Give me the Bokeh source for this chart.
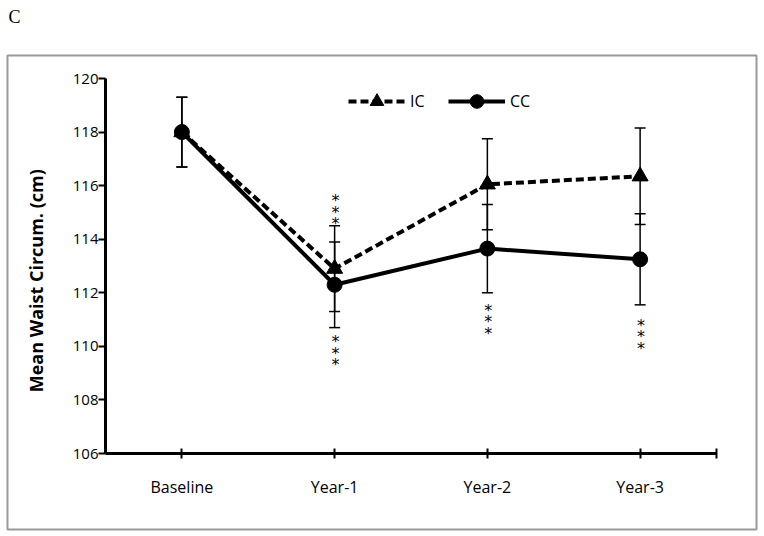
import numpy as np
from bokeh.plotting import figure
from bokeh.models import (ColumnDataSource, Whisker, TeeHead, FixedTicker, Legend,
                          LegendItem, Label, Range1d, LinearAxis, BoxAnnotation)
from bokeh.core.properties import value
from bokeh.embed import file_html
from bokeh.resources import INLINE

# ---- data ----
categories = ["Baseline", "Year-1", "Year-2", "Year-3"]
ic_mean = [118.0, 112.9, 116.05, 116.35]
ic_err = [1.3, 1.6, 1.7, 1.8]
cc_mean = [118.0, 112.3, 113.65, 113.25]
cc_err = [1.3, 1.6, 1.65, 1.7]
y_ticks = [106, 108, 110, 112, 114, 116, 118, 120]
star_cats = ["Year-1", "Year-1", "Year-2", "Year-3"]
star_y = [115.0, 109.75, 110.92, 110.35]
panel_letter = "C"
y_title = "Mean Waist Circum. (cm)"

FONT = "Open Sans"
n = len(categories)
xpos = [i + 0.5 for i in range(n)]

# the plotting frame covers the whole canvas; axes sit at fixed data positions
p = figure(width=760, height=532, output_backend="svg", toolbar_location=None,
           x_range=Range1d(-0.6874, 4.2881), y_range=Range1d(103.0507, 122.912),
           x_axis_type=None, y_axis_type=None,
           min_border_left=0, min_border_right=0, min_border_top=0,
           min_border_bottom=0)
p.outline_line_color = None
p.grid.visible = False
p.background_fill_color = "white"
p.border_fill_color = "white"

# outer chart box
p.add_layout(BoxAnnotation(left=-0.6416, right=4.2619, top=120.8587,
                           bottom=103.1627, fill_alpha=0, fill_color=None,
                           line_color="#9a9a9a", line_width=2, line_alpha=1))

xaxis = LinearAxis(fixed_location=106, bounds=(0, n),
                   ticker=FixedTicker(ticks=xpos + [n]))
xaxis.major_label_overrides = {x: c for x, c in zip(xpos, categories)}
xaxis.major_label_overrides[n] = ""
yaxis = LinearAxis(fixed_location=0, bounds=(106, 120),
                   ticker=FixedTicker(ticks=y_ticks))
for ax in (xaxis, yaxis):
    ax.axis_line_width = 3
    ax.axis_line_color = "black"
    ax.major_tick_line_width = 2
    ax.major_tick_line_color = "black"
    ax.minor_tick_line_color = None
    ax.major_label_text_font = FONT
    ax.major_label_text_color = "black"
xaxis.major_label_text_font_size = "16px"
yaxis.major_label_text_font_size = "15px"
xaxis.major_tick_in = 5
xaxis.major_tick_out = 5
xaxis.major_label_standoff = 17
yaxis.major_tick_in = 0
yaxis.major_tick_out = 7
yaxis.major_label_standoff = 0
p.add_layout(xaxis, "below")
p.add_layout(yaxis, "left")

# error bars
ic_src = ColumnDataSource(dict(x=xpos, y=ic_mean,
                               up=[m + e for m, e in zip(ic_mean, ic_err)],
                               lo=[m - e for m, e in zip(ic_mean, ic_err)]))
cc_src = ColumnDataSource(dict(x=xpos, y=cc_mean,
                               up=[m + e for m, e in zip(cc_mean, cc_err)],
                               lo=[m - e for m, e in zip(cc_mean, cc_err)]))
for src in (cc_src, ic_src):
    w = Whisker(source=src, base="x", upper="up", lower="lo",
                line_width=1.5, line_color="black",
                upper_head=TeeHead(size=11, line_width=1.5, line_color="black"),
                lower_head=TeeHead(size=11, line_width=1.5, line_color="black"))
    p.add_layout(w)

# series
cc_line = p.line("x", "y", source=cc_src, line_width=4, line_color="black")
cc_pts = p.scatter("x", "y", source=cc_src, marker="circle", size=15,
                   fill_color="black", line_color="black")
ic_line = p.line("x", "y", source=ic_src, line_width=4, line_color="black",
                 line_dash="8 4")
ic_pts = p.scatter("x", "y", source=ic_src, marker="triangle", size=16,
                   fill_color="black", line_color="black")

# significance stars
sx, sy, soff = [], [], []
for c, yv in zip(star_cats, star_y):
    for off in (-11.5, 0, 11.5):
        sx.append(categories.index(c) + 0.5)
        sy.append(yv)
        soff.append(off)
p.text(x=sx, y=sy, y_offset=soff, text=["*"] * len(sx), text_align="center",
       text_baseline="middle", text_font=value("DejaVu Sans"),
       text_font_size="16px", text_color="black", x_offset=1)

# legend
legend = Legend(items=[LegendItem(label="IC", renderers=[ic_line, ic_pts]),
                       LegendItem(label="CC", renderers=[cc_line, cc_pts])],
                orientation="horizontal", location=(348, 414),
                border_line_color=None, background_fill_alpha=0,
                glyph_width=57, glyph_height=34, label_standoff=5, spacing=18,
                padding=0, margin=0, label_text_font=FONT,
                label_text_font_size="16px", label_height=34,
                label_text_color="black")
p.add_layout(legend)

# y-axis title
p.add_layout(Label(x=-0.452, y=112.45, text=y_title,
                   angle=np.pi / 2, text_align="center", text_baseline="middle",
                   text_font=FONT, text_font_size="18px", text_font_style="bold",
                   text_color="black"))

# panel letter
p.add_layout(Label(x=-0.635, y=122.29, text=panel_letter, text_align="left",
                   text_baseline="alphabetic", text_font="Liberation Serif",
                   text_font_size="18px", text_color="black"))

open("out.html", "w").write(file_html(p, INLINE))
